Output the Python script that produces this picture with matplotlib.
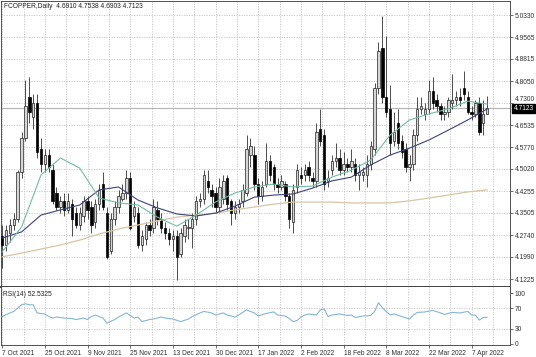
import numpy as np
import matplotlib.pyplot as plt

# OHLC per bar (daily, 7 Oct 2021 .. 12 Apr 2022)
opens = [4.27, 4.24, 4.28, 4.31, 4.33, 4.49, 4.61, 4.75, 4.68, 4.73,
         4.57, 4.52, 4.55, 4.50, 4.42, 4.37, 4.39, 4.36, 4.38, 4.35,
         4.31, 4.34, 4.39, 4.37, 4.32, 4.38, 4.45, 4.35, 4.22, 4.33,
         4.37, 4.40, 4.42, 4.47, 4.34, 4.35, 4.24, 4.26, 4.31, 4.30,
         4.36, 4.33, 4.30, 4.28, 4.26, 4.27, 4.21, 4.27, 4.30, 4.30,
         4.33, 4.39, 4.40, 4.46, 4.43, 4.42, 4.37, 4.40, 4.47, 4.39,
         4.35, 4.37, 4.39, 4.42, 4.55, 4.55, 4.45, 4.41, 4.45, 4.53,
         4.51, 4.45, 4.44, 4.45, 4.41, 4.32, 4.44, 4.48, 4.48, 4.51,
         4.47, 4.46, 4.64, 4.62, 4.46, 4.50, 4.53, 4.54, 4.50, 4.52,
         4.51, 4.52, 4.48, 4.48, 4.48, 4.52, 4.57, 4.78, 4.92, 4.75,
         4.71, 4.60, 4.66, 4.60, 4.57, 4.51, 4.52, 4.62, 4.71, 4.69,
         4.71, 4.77, 4.74, 4.72, 4.69, 4.70, 4.73, 4.74, 4.75, 4.78,
         4.75, 4.70, 4.69, 4.73, 4.66, 4.6910]
highs = [4.31, 4.31, 4.33, 4.35, 4.50, 4.63, 4.81, 4.82, 4.76, 4.76,
         4.61, 4.57, 4.57, 4.52, 4.44, 4.41, 4.42, 4.42, 4.40, 4.37,
         4.37, 4.41, 4.41, 4.39, 4.40, 4.45, 4.49, 4.37, 4.35, 4.39,
         4.43, 4.45, 4.50, 4.49, 4.39, 4.37, 4.29, 4.32, 4.33, 4.40,
         4.39, 4.35, 4.32, 4.30, 4.29, 4.29, 4.30, 4.33, 4.33, 4.35,
         4.41, 4.42, 4.50, 4.50, 4.45, 4.44, 4.47, 4.48, 4.48, 4.40,
         4.39, 4.40, 4.45, 4.62, 4.61, 4.58, 4.47, 4.46, 4.59, 4.55,
         4.52, 4.47, 4.48, 4.46, 4.42, 4.45, 4.52, 4.51, 4.52, 4.53,
         4.49, 4.66, 4.71, 4.64, 4.50, 4.55, 4.59, 4.57, 4.56, 4.54,
         4.57, 4.54, 4.52, 4.51, 4.55, 4.60, 4.80, 4.94, 5.03, 4.96,
         4.79, 4.70, 4.71, 4.62, 4.59, 4.55, 4.64, 4.75, 4.75, 4.73,
         4.81, 4.82, 4.76, 4.73, 4.72, 4.75, 4.83, 4.77, 4.78, 4.84,
         4.77, 4.72, 4.74, 4.75, 4.74, 4.7538]
lows = [4.16, 4.22, 4.25, 4.29, 4.32, 4.47, 4.60, 4.66, 4.64, 4.54,
        4.49, 4.49, 4.49, 4.38, 4.36, 4.35, 4.34, 4.35, 4.27, 4.30,
        4.29, 4.32, 4.33, 4.28, 4.30, 4.36, 4.36, 4.19, 4.21, 4.31,
        4.35, 4.39, 4.40, 4.29, 4.32, 4.23, 4.22, 4.24, 4.27, 4.28,
        4.31, 4.28, 4.26, 4.24, 4.22, 4.12, 4.20, 4.25, 4.26, 4.23,
        4.31, 4.37, 4.38, 4.42, 4.37, 4.35, 4.35, 4.38, 4.36, 4.31,
        4.33, 4.35, 4.37, 4.41, 4.51, 4.43, 4.38, 4.39, 4.44, 4.46,
        4.43, 4.42, 4.43, 4.39, 4.30, 4.28, 4.42, 4.45, 4.46, 4.46,
        4.44, 4.44, 4.58, 4.43, 4.44, 4.48, 4.51, 4.48, 4.48, 4.49,
        4.49, 4.46, 4.43, 4.46, 4.44, 4.50, 4.55, 4.76, 4.73, 4.68,
        4.55, 4.58, 4.57, 4.54, 4.49, 4.46, 4.50, 4.60, 4.69, 4.67,
        4.69, 4.71, 4.70, 4.67, 4.67, 4.68, 4.71, 4.72, 4.72, 4.74,
        4.69, 4.67, 4.68, 4.62, 4.62, 4.6903]
closes = [4.24, 4.29, 4.31, 4.33, 4.49, 4.61, 4.72, 4.70, 4.73, 4.56,
          4.52, 4.55, 4.51, 4.39, 4.37, 4.39, 4.36, 4.39, 4.33, 4.31,
          4.35, 4.39, 4.36, 4.31, 4.38, 4.43, 4.37, 4.20, 4.33, 4.37,
          4.41, 4.42, 4.47, 4.30, 4.37, 4.24, 4.27, 4.31, 4.29, 4.37,
          4.33, 4.30, 4.28, 4.26, 4.27, 4.20, 4.28, 4.31, 4.301, 4.33,
          4.39, 4.40, 4.48, 4.44, 4.41, 4.37, 4.44, 4.46, 4.38, 4.35,
          4.37, 4.38, 4.43, 4.57, 4.58, 4.45, 4.41, 4.44, 4.53, 4.48,
          4.45, 4.44, 4.46, 4.41, 4.33, 4.43, 4.50, 4.47, 4.50, 4.48,
          4.46, 4.63, 4.60, 4.45, 4.47, 4.53, 4.54, 4.50, 4.52, 4.51,
          4.53, 4.48, 4.49, 4.49, 4.52, 4.58, 4.78, 4.91, 4.75, 4.70,
          4.59, 4.63, 4.59, 4.56, 4.51, 4.52, 4.62, 4.71, 4.72, 4.71,
          4.77, 4.73, 4.72, 4.69, 4.70, 4.74, 4.74, 4.75, 4.74, 4.76,
          4.70, 4.69, 4.73, 4.63, 4.69, 4.7123]

# moving averages, sampled every 5 bars
ma_bars = list(range(0, 126, 5))
ma_fast = [4.216, 4.302, 4.481, 4.540, 4.505, 4.402, 4.385, 4.378, 4.336, 4.305,
           4.343, 4.388, 4.419, 4.440, 4.450, 4.440, 4.443, 4.474, 4.498, 4.533,
           4.619, 4.671, 4.692, 4.709, 4.736, 4.726]
ma_mid = [4.264, 4.285, 4.343, 4.361, 4.378, 4.430, 4.440, 4.395, 4.368, 4.347,
          4.340, 4.350, 4.374, 4.405, 4.412, 4.416, 4.436, 4.461, 4.474, 4.516,
          4.550, 4.574, 4.602, 4.636, 4.671, 4.709]
ma_slow = [4.199, 4.212, 4.226, 4.240, 4.257, 4.278, 4.295, 4.309, 4.323, 4.336,
           4.343, 4.350, 4.361, 4.371, 4.381, 4.388, 4.388, 4.388, 4.385, 4.385,
           4.385, 4.392, 4.402, 4.412, 4.423, 4.430]

# RSI(14)
rsi_bars = [0, 2, 3, 5, 6, 7, 8, 9, 11, 12, 13, 14, 16, 18, 19, 21, 22, 23, 24, 26,
            27, 29, 30, 31, 32, 34, 35, 36, 38, 39, 41, 42, 44, 46, 48, 49, 51, 52, 54, 55,
            57, 58, 60, 61, 63, 65, 66, 68, 70, 71, 73, 74, 75, 76, 77, 78, 79, 81, 82, 83,
            84, 85, 87, 89, 90, 91, 93, 95, 96, 97, 98, 99, 100, 101, 103, 105, 106, 107, 109, 111,
            113, 114, 116, 118, 120, 121, 122, 123, 124, 125]
rsi_vals = [54, 61, 64, 77, 79, 77, 77, 61, 59, 54, 51, 53, 51, 50, 48, 51, 48, 54, 57, 51,
            41, 48, 53, 57, 61, 51, 53, 44, 48, 49, 53, 51, 49, 44, 49, 54, 61, 64, 61, 57,
            61, 57, 53, 57, 67, 61, 55, 60, 63, 57, 55, 50, 44, 46, 53, 57, 59, 57, 67, 69,
            54, 57, 59, 56, 57, 52, 55, 56, 64, 81, 71, 64, 57, 59, 54, 49, 57, 62, 63, 66,
            61, 58, 62, 61, 64, 57, 57, 47, 52, 52.5325]

price_ticks = [5.0330, 4.9565, 4.8815, 4.8050, 4.7300, 4.6535, 4.5770, 4.5020,
               4.4255, 4.3505, 4.2740, 4.1990, 4.1225]
date_bars = [0, 11, 22, 33, 44, 55, 66, 77, 88, 99, 110, 121]
date_labels = ['7 Oct 2021', '25 Oct 2021', '9 Nov 2021', '25 Nov 2021', '13 Dec 2021',
               '30 Dec 2021', '17 Jan 2022', '2 Feb 2022', '18 Feb 2022', '8 Mar 2022',
               '22 Mar 2022', '7 Apr 2022']
last_price = 4.7123

plt.rcParams['font.family'] = ['Liberation Sans', 'DejaVu Sans']
FS = 4.8
GRID = '#c4c4c4'
DOTS = (0, (1.5, 1.5))

fig = plt.figure(figsize=(5.36, 3.57), dpi=100)
ax = fig.add_axes([1 / 536, 70 / 357, 509 / 536, 286 / 357])
rax = fig.add_axes([1 / 536, 12 / 357, 509 / 536, 58 / 357], sharex=ax)

o = np.array(opens)
h = np.array(highs)
l = np.array(lows)
c = np.array(closes)
x = np.arange(len(c))
up = c >= o

# candles
ax.vlines(x, l, h, color='#303030', lw=0.6, zorder=3)
ax.bar(x[up], c[up] - o[up], bottom=o[up], width=0.62, color='#d6d6d6',
       edgecolor='#202020', linewidth=0.5, zorder=4)
ax.bar(x[~up], o[~up] - c[~up], bottom=c[~up], width=0.62, color='black',
       edgecolor='black', linewidth=0.5, zorder=4)

ax.plot(ma_bars, ma_slow, color='#d9c4a4', lw=0.9, zorder=5)
ax.plot(ma_bars, ma_mid, color='#3c4478', lw=0.8, zorder=5)
ax.plot(ma_bars, ma_fast, color='#74bba2', lw=0.8, zorder=5)

ax.axhline(last_price, color='#b4b4b4', lw=0.8, zorder=2)

# grid
vgrid = np.arange(0, 132, 5.5)
for a in (ax, rax):
    for g in vgrid:
        a.axvline(g, color=GRID, lw=0.6, ls=DOTS, zorder=1)
for p in price_ticks:
    ax.axhline(p, color=GRID, lw=0.6, ls=DOTS, zorder=1)
for r in (30, 70):
    rax.axhline(r, color=GRID, lw=0.6, ls=DOTS, zorder=1)

ax.set_xlim(-0.3, 130.9)
ax.set_ylim(4.0951, 5.0813)
ax.yaxis.tick_right()
ax.set_yticks(price_ticks)
ax.set_yticklabels([f'{p:.4f}' for p in price_ticks])
ax.tick_params(axis='y', labelsize=FS, length=2, width=0.5, pad=1.5, colors='#303030')
ax.tick_params(axis='x', bottom=False, labelbottom=False)
# the 4.7300 label sits half hidden behind the price box: lift it above
for lab in ax.get_yticklabels():
    if lab.get_text() == '4.7300':
        lab.set_va('bottom')

ax.text(0.006, 0.992, 'FCOPPER,Daily  4.6910 4.7538 4.6903 4.7123', transform=ax.transAxes,
        fontsize=FS, va='top', ha='left', color='#202020')
ax.annotate(f'{last_price:.4f}', xy=(1, last_price), xycoords=('axes fraction', 'data'),
            xytext=(2.5, -0.6), textcoords='offset points', fontsize=FS, color='white',
            va='center', ha='left', annotation_clip=False, zorder=10,
            bbox=dict(boxstyle='square,pad=0.15', fc='black', ec='black'))

# RSI panel
rax.plot(rsi_bars, rsi_vals, color='#84b6d6', lw=0.8, zorder=3)
rax.set_ylim(-2, 112)
rax.yaxis.tick_right()
rax.set_yticks([100, 70, 30, 0])
rax.set_yticklabels(['100', '70', '30', '0'])
rax.tick_params(axis='y', labelsize=FS, length=2, width=0.5, pad=1.5, colors='#303030')
rax.set_xticks(date_bars)
rax.set_xticklabels(date_labels, ha='left')
rax.tick_params(axis='x', labelsize=FS, length=2, width=0.5, pad=1.5, colors='#303030')
rax.text(0.004, 0.93, 'RSI(14) 52.5325', transform=rax.transAxes, fontsize=FS,
         va='top', ha='left', color='#202020')

for a in (ax, rax):
    for s in a.spines.values():
        s.set_color('#505050')
        s.set_linewidth(0.7)
ax.spines['bottom'].set_linewidth(1.4)
ax.spines['bottom'].set_color('#404040')
rax.spines['top'].set_visible(False)

fig.savefig('out.png', dpi=100)
